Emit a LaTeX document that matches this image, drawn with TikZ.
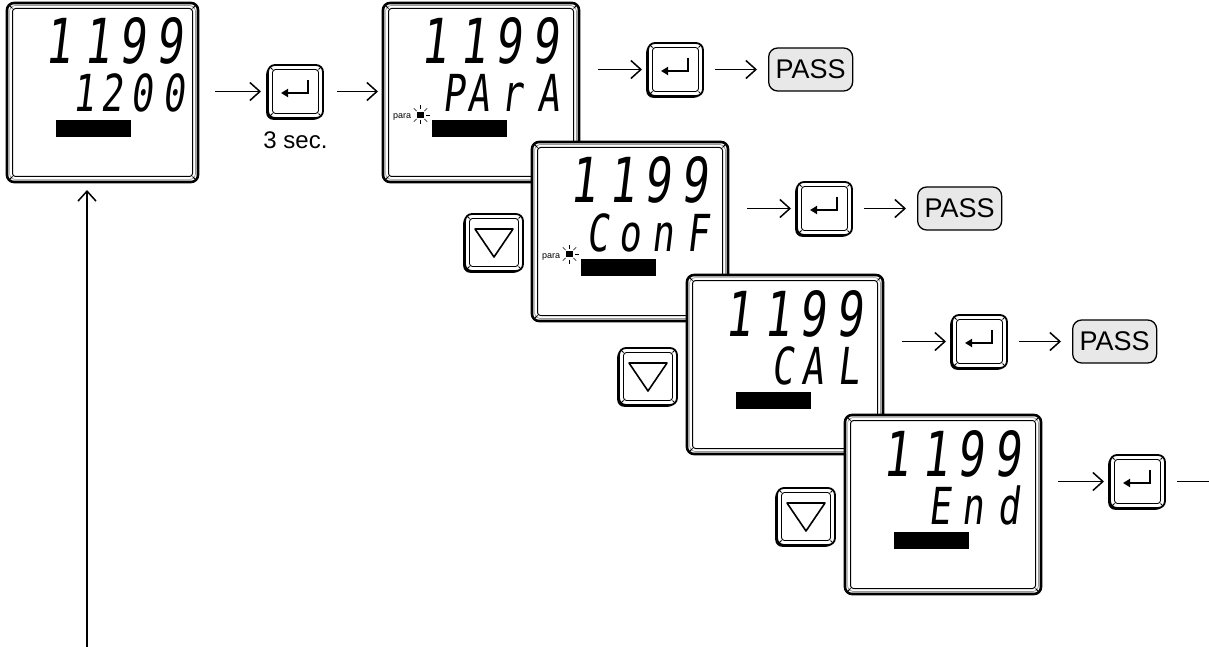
\documentclass[tikz,border=0pt]{standalone}
\usepackage{fontspec}
\setmainfont{Liberation Sans}
\newfontfamily\segfont{DejaVu Sans Mono}[FakeSlant=0.12,FakeStretch=0.72]
\usetikzlibrary{arrows.meta,calc,shadows}

\newcommand\kB{\kern10.5pt}
\newcommand\kk[1]{\kern#1pt}
\newcommand\numtop{1\kk{12}1\kk{8}9\kk{11}9}

\tikzset{
  lcd/.style={draw=black, line width=2.6pt, rounded corners=7pt, fill=white,
    minimum width=196pt, minimum height=179pt, inner sep=0pt, outer sep=0pt, anchor=north west},
  lcdgray/.style={draw=black!40, line width=0.7pt, rounded corners=5pt},
  lcdinner/.style={draw=black, line width=1pt, rounded corners=3pt},
  bevel/.style={draw=black, line width=0.8pt},
  segA/.style={font=\segfont\fontsize{62}{62}\selectfont, anchor=base east, inner sep=0pt},
  segB/.style={font=\segfont\fontsize{51}{51}\selectfont, anchor=base east, inner sep=0pt},
  lcdbar/.style={fill=black, draw=none, minimum width=75pt, minimum height=17pt,
    inner sep=0pt, anchor=north west},
  paratext/.style={font=\fontsize{9}{9}\selectfont, anchor=base west, inner sep=0pt},
  parasq/.style={fill=black, draw=none, minimum size=6.5pt, inner sep=0pt},
  ray/.style={draw=black, line width=0.6pt},
  keyface/.style={draw=black, line width=1.8pt, rounded corners=7pt, fill=white,
    inner sep=0pt, outer sep=0pt, anchor=north west,
    drop shadow={shadow xshift=-1.8pt, shadow yshift=-1.8pt, fill=black, opacity=1}},
  keyinner/.style={draw=black, line width=0.9pt, rounded corners=3pt},
  entersym/.style={draw=black, line width=2pt, line join=miter,
    -{Triangle[length=7pt,width=8pt]}},
  tri/.style={draw=black, line width=1.6pt, line join=round},
  passbox/.style={draw=black, line width=1.3pt, rounded corners=9pt, fill=black!9,
    minimum width=84pt, minimum height=43pt, inner sep=0pt,
    font=\fontsize{27}{27}\selectfont, anchor=west},
  arr/.style={draw=black, line width=1.5pt,
    -{Straight Barb[length=10pt,width=18pt,line width=1.5pt]}},
  plainline/.style={draw=black, line width=1.5pt},
  captext/.style={font=\fontsize{24}{24}\selectfont, anchor=base, inner sep=0pt}
}

\newcommand\fourbevels[2]{%
  \draw[bevel] ([shift={(2,2)}]#1.north west) -- ([shift={(#2,#2)}]#1.north west);
  \draw[bevel] ([shift={(-2,2)}]#1.north east) -- ([shift={(-#2,#2)}]#1.north east);
  \draw[bevel] ([shift={(2,-2)}]#1.south west) -- ([shift={(#2,-#2)}]#1.south west);
  \draw[bevel] ([shift={(-2,-2)}]#1.south east) -- ([shift={(-#2,-#2)}]#1.south east);
}

% name, top-left, line 1, line 2, extra options, right offset of line 2
\newcommand\lcdpanel[6]{%
  \node[lcd,#5] (#1) at (#2) {};
  \draw[lcdgray] ([shift={(2.6,2.6)}]#1.north west) rectangle ([shift={(-2.6,-2.6)}]#1.south east);
  \draw[lcdinner] ([shift={(5.5,5.5)}]#1.north west) rectangle ([shift={(-5.5,-5.5)}]#1.south east);
  \fourbevels{#1}{5.5}
  \node[segA] (#1-a) at ([shift={(176,61)}]#1.north west) {#3};
  \node[segB] (#1-b) at ([shift={(#6,109)}]#1.north west) {#4};
  \node[lcdbar] (#1-bar) at ([shift={(49,117)}]#1.north west) {};
}

\newcommand\paramark[1]{%
  \node[paratext] (#1-pt) at ([shift={(10,116)}]#1.north west) {para};
  \node[parasq] (#1-sq) at ([shift={(37.5,112)}]#1.north west) {};
  \foreach \ang in {0,45,90,135,-45,-90,-135}
    \draw[ray] ($(#1-sq)+(\ang:5.5)$) -- ($(#1-sq)+(\ang:9.5)$);
}

\newcommand\enterkey[2]{%
  \node[keyface, minimum width=55pt, minimum height=53pt] (#1) at (#2) {};
  \draw[keyinner] ([shift={(4.5,4.5)}]#1.north west) rectangle ([shift={(-4.5,-4.5)}]#1.south east);
  \fourbevels{#1}{4.5}
  \draw[entersym] ([shift={(40,15)}]#1.north west) -- ([shift={(40,28)}]#1.north west)
    -- ([shift={(13,28)}]#1.north west);
}

\newcommand\downkey[2]{%
  \node[keyface, minimum width=58pt, minimum height=57pt] (#1) at (#2) {};
  \draw[keyinner] ([shift={(4.5,4.5)}]#1.north west) rectangle ([shift={(-4.5,-4.5)}]#1.south east);
  \fourbevels{#1}{4.5}
  \draw[tri] ([shift={(10,15)}]#1.north west) -- ([shift={(48,15)}]#1.north west)
    -- ([shift={(29,43)}]#1.north west) -- cycle;
}

\begin{document}
\begin{tikzpicture}[x=1pt,y=-1pt]
\useasboundingbox[fill=white] (0,0) rectangle (1209,647);

% --- first display and entry
\lcdpanel{d1}{7,3}{\numtop}{1\kk{6}2\kk{8}0\kk{10}0}{minimum width=191pt}{178}
\enterkey{ke0}{268,65}
\node[captext] (sec) at ([yshift=-31pt]ke0.south) {3 sec.};
\draw[arr, shorten <=17pt, shorten >=7pt] (d1.east |- ke0.west) -- (ke0.west);

% --- PArA
\lcdpanel{d2}{383,3}{\numtop}{P\kk{3.5}A\kk{10.5}r\kk{15}A}{}{177}
\paramark{d2}
\draw[arr, shorten <=14pt, shorten >=5pt] (ke0.east) -- (ke0.east -| d2.west);
\enterkey{ke1}{648,43}
\node[passbox] (p1) at ([xshift=65]ke1.east) {PASS};
\draw[arr, shorten <=19pt, shorten >=6pt] (d2.east |- ke1.west) -- (ke1.west);
\draw[arr, shorten <=12pt, shorten >=11pt] (ke1.east) -- (p1.west);

% --- ConF
\lcdpanel{d3}{532,142}{\numtop}{C\kB o\kB n\kk{13}F}{}{177}
\paramark{d3}
\downkey{kd1}{465,214}
\enterkey{ke2}{797,182}
\node[passbox] (p2) at ([xshift=65]ke2.east) {PASS};
\draw[arr, shorten <=19pt, shorten >=6pt] (d3.east |- ke2.west) -- (ke2.west);
\draw[arr, shorten <=12pt, shorten >=11pt] (ke2.east) -- (p2.west);

% --- CAL
\lcdpanel{d4}{687,275}{\numtop}{C\kk{7.5}A\kk{14}L}{}{173}
\downkey{kd2}{619,348}
\enterkey{ke3}{952,315}
\node[passbox] (p3) at ([xshift=65]ke3.east) {PASS};
\draw[arr, shorten <=19pt, shorten >=6pt] (d4.east |- ke3.west) -- (ke3.west);
\draw[arr, shorten <=12pt, shorten >=11pt] (ke3.east) -- (p3.west);

% --- End
\lcdpanel{d5}{845,415}{\numtop}{E\kk{10.5}n\kk{14}d}{}{175}
\downkey{kd3}{777,488}
\enterkey{ke4}{1110,455}
\draw[arr, shorten <=17pt, shorten >=6pt] (d5.east |- ke4.west) -- (ke4.west);
\coordinate (tailend) at ([xshift=60]ke4.east);
\draw[plainline, shorten <=12pt] (ke4.east) -- (tailend);

% --- return arrow
\coordinate (retfoot) at (87,650);
\draw[arr, shorten >=8pt] (retfoot) -- (retfoot |- d1.south);
\end{tikzpicture}
\end{document}
